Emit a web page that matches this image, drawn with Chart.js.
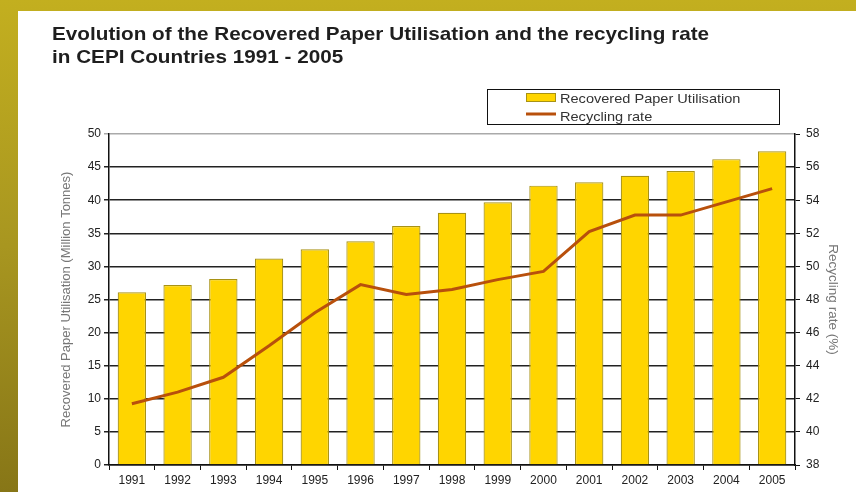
<!DOCTYPE html>
<html>
<head>
<meta charset="utf-8">
<script src="https://cdn.jsdelivr.net/npm/chart.js@4/dist/chart.umd.min.js"></script>
<style>
  html, body { margin: 0; padding: 0; }
  body {
    width: 856px; height: 492px; position: relative; overflow: hidden;
    background: linear-gradient(to bottom, #c3af1f 0%, #a89620 50%, #877617 100%);
  }
  #panel { position: absolute; left: 18px; top: 11px; right: 0; bottom: 0; background: #fff; }
  #wrap { position: absolute; left: 0; top: 0; width: 856px; height: 492px; }
</style>
</head>
<body>
<div id="panel"></div>
<div id="wrap"><canvas id="chart" width="856" height="492"></canvas></div>
<script>
// data
const years = ['1991', '1992', '1993', '1994', '1995', '1996', '1997', '1998',
               '1999', '2000', '2001', '2002', '2003', '2004', '2005'];
const paperUtilisation = [26.1, 27.2, 28.1, 31.2, 32.6, 33.8, 36.1, 38.1,
                          39.7, 42.2, 42.7, 43.7, 44.4, 46.2, 47.4];
const recyclingRate = [41.7, 42.4, 43.3, 45.2, 47.2, 48.9, 48.3, 48.6,
                       49.2, 49.7, 52.1, 53.1, 53.1, 53.9, 54.7];
const titleLines = ['Evolution of the Recovered Paper Utilisation and the recycling rate',
                    'in CEPI Countries 1991 - 2005'];

const FONT = '"Liberation Sans", Arial, sans-serif';
const BAR_FILL = '#ffd500';
const BAR_EDGE = '#a89214';
const LINE_COLOR = '#b8500c';

// the source text is a bit wider than the font, so stretch it horizontally
function wideText(ctx, text, x, y, sx) {
  ctx.save();
  ctx.translate(x, y);
  ctx.scale(sx, 1);
  ctx.fillText(text, 0, 0);
  ctx.restore();
}

// title + boxed legend, drawn by hand
const decorations = {
  id: 'decorations',
  afterDraw(chart) {
    const ctx = chart.ctx;
    ctx.save();
    ctx.fillStyle = '#1e1e1e';
    ctx.font = 'bold 19px ' + FONT;
    ctx.textBaseline = 'alphabetic';
    wideText(ctx, titleLines[0], 52, 40, 1.09);
    wideText(ctx, titleLines[1], 52, 63, 1.09);

    // legend box
    ctx.strokeStyle = '#111';
    ctx.lineWidth = 1;
    ctx.fillStyle = '#fff';
    ctx.fillRect(487.5, 89.5, 292, 35);
    ctx.strokeRect(487.5, 89.5, 292, 35);

    ctx.fillStyle = BAR_FILL;
    ctx.fillRect(526, 93, 30, 9);
    ctx.strokeStyle = BAR_EDGE;
    ctx.strokeRect(526.5, 93.5, 29, 8);

    ctx.strokeStyle = LINE_COLOR;
    ctx.lineWidth = 3;
    ctx.beginPath();
    ctx.moveTo(526, 114);
    ctx.lineTo(556, 114);
    ctx.stroke();

    ctx.fillStyle = '#333';
    ctx.font = '13px ' + FONT;
    wideText(ctx, chart.data.datasets[1].label, 560, 103, 1.12);
    wideText(ctx, chart.data.datasets[0].label, 560, 121, 1.12);
    ctx.restore();
  }
};

new Chart(document.getElementById('chart'), {
  data: {
    labels: years,
    datasets: [{
      type: 'line',
      label: 'Recycling rate',
      data: recyclingRate,
      yAxisID: 'yRate',
      borderColor: LINE_COLOR,
      borderWidth: 3,
      pointRadius: 0,
      tension: 0,
      order: 0
    }, {
      type: 'bar',
      label: 'Recovered Paper Utilisation',
      data: paperUtilisation,
      yAxisID: 'yPaper',
      backgroundColor: BAR_FILL,
      borderColor: BAR_EDGE,
      borderWidth: 1.2,
      barPercentage: 0.62,
      categoryPercentage: 1,
      order: 1
    }]
  },
  options: {
    responsive: false,
    animation: false,
    devicePixelRatio: 1,
    layout: { padding: { left: 55, right: 11, top: 134, bottom: 0 } },
    plugins: {
      legend: { display: false },
      tooltip: { enabled: false }
    },
    scales: {
      x: {
        afterFit: (s) => { s.height = 27; },
        grid: { display: true, drawOnChartArea: false, color: '#111', tickLength: 5, offset: true },
        border: { color: '#111', width: 1.5 },
        ticks: { color: '#222', font: { family: FONT, size: 12 }, padding: 3, maxRotation: 0, autoSkip: false }
      },
      yPaper: {
        position: 'left',
        min: 0, max: 50,
        afterFit: (s) => { s.width = 54; },
        ticks: { stepSize: 5, color: '#222', font: { family: FONT, size: 12 }, padding: 3 },
        grid: {
          color: (c) => c.index === 10 ? '#aaa' : '#222',
          lineWidth: 1.5,
          tickLength: 5
        },
        border: { color: '#111', width: 1.5 },
        title: {
          display: true,
          text: 'Recovered Paper Utilisation (Million Tonnes)',
          color: '#777',
          font: { family: FONT, size: 13 },
          padding: 4
        }
      },
      yRate: {
        position: 'right',
        min: 38, max: 58,
        afterFit: (s) => { s.width = 50; },
        ticks: { stepSize: 2, color: '#222', font: { family: FONT, size: 12 }, padding: 6 },
        grid: { drawOnChartArea: false, color: '#111', tickLength: 5 },
        border: { color: '#111', width: 1.5 },
        title: {
          display: true,
          text: 'Recycling rate (%)',
          color: '#777',
          font: { family: FONT, size: 13.5 },
          padding: 4
        }
      }
    }
  },
  plugins: [decorations]
});
</script>
</body>
</html>
